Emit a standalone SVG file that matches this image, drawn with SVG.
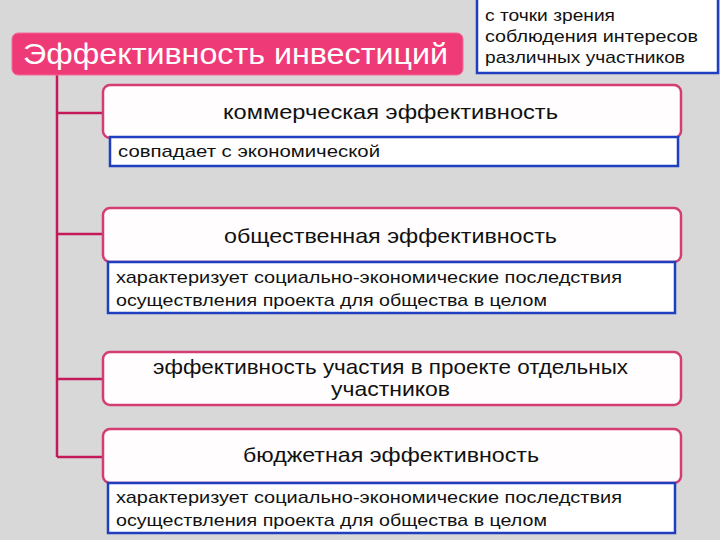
<svg xmlns="http://www.w3.org/2000/svg" width="720" height="540" viewBox="0 0 720 540">
<style>
.bg{fill:#d8d8d8}
.title{fill:#ef3a78;stroke:#f46a98;stroke-width:1}
.box{fill:#fffdfd;stroke:#d33d74;stroke-width:2.5}
.note{fill:#ffffff;stroke:#1f3fbf;stroke-width:2.5}
.conn{stroke:#c4195a;stroke-width:2.5;fill:none}
text{font-family:"Liberation Sans",Arial,sans-serif;fill:#111}
.tt{font-size:29px;fill:#ffffff}
.h{font-size:21px}
.n{font-size:17px}
</style>
<rect class="bg" x="0" y="0" width="720" height="540"/>
<g id="connectors">
<path class="conn" d="M57 75 V457 M57 113 H102 M57 234 H102 M57 379 H102 M57 457 H102"/>
</g>
<g id="title">
<rect class="title" x="12" y="33" width="451" height="42" rx="6"/>
<text class="tt" x="23" y="64" textLength="425" lengthAdjust="spacingAndGlyphs">Эффективность инвестиций</text>
</g>
<g id="viewpoint">
<rect class="note" x="477" y="-3" width="241" height="76"/>
<text class="n" x="485" y="21" textLength="130" lengthAdjust="spacingAndGlyphs">с точки зрения</text>
<text class="n" x="485" y="42" textLength="213" lengthAdjust="spacingAndGlyphs">соблюдения интересов</text>
<text class="n" x="485" y="63" textLength="200" lengthAdjust="spacingAndGlyphs">различных участников</text>
</g>
<g id="commercial">
<rect class="box" x="103" y="85" width="578" height="53" rx="7"/>
<text class="h" x="223" y="119" textLength="335" lengthAdjust="spacingAndGlyphs">коммерческая эффективность</text>
</g>
<g id="commercial-note">
<rect class="note" x="110" y="137" width="568" height="29"/>
<text class="n" x="118" y="157" textLength="262" lengthAdjust="spacingAndGlyphs">совпадает с экономической</text>
</g>
<g id="social">
<rect class="box" x="103" y="208" width="578" height="54" rx="7"/>
<text class="h" x="224" y="243" textLength="333" lengthAdjust="spacingAndGlyphs">общественная эффективность</text>
</g>
<g id="social-note">
<rect class="note" x="108" y="262" width="567" height="51"/>
<text class="n" x="116" y="283" textLength="506" lengthAdjust="spacingAndGlyphs">характеризует социально-экономические последствия</text>
<text class="n" x="116" y="306" textLength="431" lengthAdjust="spacingAndGlyphs">осуществления проекта для общества в целом</text>
</g>
<g id="participants">
<rect class="box" x="103" y="352" width="578" height="53" rx="7"/>
<text class="h" x="153" y="374" textLength="475" lengthAdjust="spacingAndGlyphs">эффективность участия в проекте отдельных</text>
<text class="h" x="331" y="396" textLength="119" lengthAdjust="spacingAndGlyphs">участников</text>
</g>
<g id="budget">
<rect class="box" x="103" y="429" width="578" height="54" rx="7"/>
<text class="h" x="243" y="462" textLength="296" lengthAdjust="spacingAndGlyphs">бюджетная эффективность</text>
</g>
<g id="budget-note">
<rect class="note" x="108" y="483" width="567" height="50"/>
<text class="n" x="116" y="503" textLength="506" lengthAdjust="spacingAndGlyphs">характеризует социально-экономические последствия</text>
<text class="n" x="116" y="526" textLength="431" lengthAdjust="spacingAndGlyphs">осуществления проекта для общества в целом</text>
</g>
</svg>
